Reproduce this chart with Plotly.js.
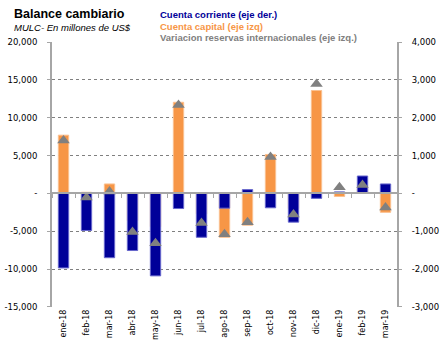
<!DOCTYPE html>
<html>
<head>
<meta charset="utf-8">
<script src="https://cdn.plot.ly/plotly-3.0.1.min.js"></script>
<style>html,body{margin:0;padding:0;background:#fff;}#chart{width:443px;height:350px;}</style>
</head>
<body>
<div id="chart"></div>
<script>
const categories = ["ene-18","feb-18","mar-18","abr-18","may-18","jun-18","jul-18","ago-18","sep-18","oct-18","nov-18","dic-18","ene-19","feb-19","mar-19"];
// Cuenta corriente (eje der.), millones US$
const cuentaCorriente = [-1970,-980,-1700,-1510,-2180,-400,-1160,-390,100,-380,-760,-130,40,460,250];
// Cuenta capital (eje izq.)
const cuentaCapital = [7700,150,1250,-3600,-4400,12050,-2700,-5800,-4200,5150,-2000,13600,-400,640,-2500];
// Variación reservas internacionales (eje izq.)
const variacionReservas = [7000,-550,250,-5100,-6600,11700,-3900,-5400,-3800,4800,-2800,14450,800,1100,-1850];

const leftTicks = [-15000,-10000,-5000,0,5000,10000,15000,20000];
const leftTickText = ["-15,000","-10,000","-5,000","-","5,000","10,000","15,000","20,000"];
const rightTicks = [-3000,-2000,-1000,0,1000,2000,3000,4000];
const rightTickText = ["-3,000","-2,000","-1,000","-","1,000","2,000","3,000","4,000"];
const leftRange = [-15015,20015];
const rightRange = [-3003,4003];

const tickFont = {family:"DejaVu Sans", size:8.5, color:"#000000"};

const traces = [
  {type:"bar", x:categories, y:cuentaCapital, xaxis:"x", yaxis:"y", width:0.45,
   marker:{color:"#F79646", line:{color:"#FAC090", width:1}}, name:"Cuenta capital", hoverinfo:"skip"},
  {type:"bar", x:categories, y:cuentaCorriente, xaxis:"x", yaxis:"y2", width:0.45,
   marker:{color:"#000099", line:{color:"#6666CC", width:1}}, name:"Cuenta corriente", hoverinfo:"skip"},
  {type:"scatter", mode:"markers", x:categories, y:variacionReservas, xaxis:"x2", yaxis:"y3",
   marker:{symbol:"triangle-up", size:11, color:"#808080"}, name:"Variacion reservas", hoverinfo:"skip"}
];

const px = v => (v-52)/345;
const py = v => (307-v)/265;

const layout = {
  width:443, height:350,
  margin:{l:52, r:46, t:42, b:43, pad:0},
  paper_bgcolor:"#ffffff", plot_bgcolor:"#ffffff",
  showlegend:false, barmode:"overlay",
  xaxis:{type:"category", showgrid:false, zeroline:false, showline:false, ticks:"",
         tickangle:-90, tickfont:{family:"DejaVu Sans", size:8, color:"#000"}, range:[-0.5,14.5], fixedrange:true},
  xaxis2:{type:"category", overlaying:"x", anchor:"free", position:(0-leftRange[0])/(leftRange[1]-leftRange[0]),
          showgrid:false, zeroline:false, showline:true, linecolor:"#A6A6A6", linewidth:2,
          ticks:"outside", tickson:"boundaries", ticklen:4, tickcolor:"#A6A6A6", tickwidth:1,
          showticklabels:false, range:[-0.5,14.5]},
  yaxis:{range:leftRange, tickvals:leftTicks, ticktext:leftTickText, tickfont:tickFont,
         showgrid:true, gridcolor:"#808080", griddash:"dot", gridwidth:1,
         showline:true, linecolor:"#A6A6A6", linewidth:2, ticks:"outside", ticklen:3, tickcolor:"#A6A6A6",
         zeroline:false, ticklabelstandoff:8},
  yaxis2:{range:rightRange, overlaying:"y", side:"right", tickvals:rightTicks, ticktext:rightTickText, tickfont:tickFont,
          showgrid:false, showline:true, linecolor:"#A6A6A6", linewidth:2, ticks:"outside", ticklen:3, tickcolor:"#A6A6A6",
          zeroline:false, ticklabelstandoff:8},
  yaxis3:{range:leftRange, overlaying:"y", visible:false, showgrid:false, zeroline:false},
  annotations:[
    {text:"<b>Balance cambiario</b>", xref:"paper", yref:"paper", x:px(12), y:py(14), xanchor:"left", yanchor:"middle",
     showarrow:false, font:{family:"Liberation Sans", size:12.5, color:"#000"}},
    {text:"<i>MULC- En millones de US$</i>", xref:"paper", yref:"paper", x:px(12), y:py(27.5), xanchor:"left", yanchor:"middle",
     showarrow:false, font:{family:"Liberation Sans", size:9.5, color:"#000"}},
    {text:"<b>Cuenta corriente (eje der.)</b>", xref:"paper", yref:"paper", x:px(158), y:py(14.5), xanchor:"left", yanchor:"middle",
     showarrow:false, font:{family:"Liberation Sans", size:9.5, color:"#000099"}},
    {text:"<b>Cuenta capital (eje izq)</b>", xref:"paper", yref:"paper", x:px(158), y:py(26.5), xanchor:"left", yanchor:"middle",
     showarrow:false, font:{family:"Liberation Sans", size:9.5, color:"#F79646"}},
    {text:"<b>Variacion reservas internacionales (eje izq.)</b>", xref:"paper", yref:"paper", x:px(158), y:py(37.5), xanchor:"left", yanchor:"middle",
     showarrow:false, font:{family:"Liberation Sans", size:9.5, color:"#808080"}}
  ]
};

Plotly.newPlot("chart", traces, layout, {staticPlot:true, displayModeBar:false});
</script>
</body>
</html>
